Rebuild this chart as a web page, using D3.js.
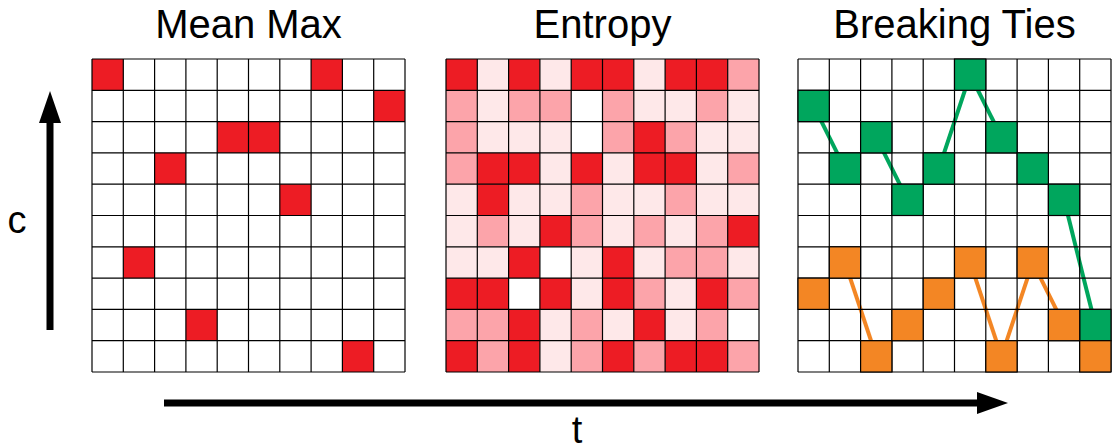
<!DOCTYPE html>
<html>
<head>
<meta charset="utf-8">
<script src="https://cdn.jsdelivr.net/npm/d3@7"></script>
<style>
  body { margin: 0; background: #fff; }
  text { font-family: "Liberation Sans", Arial, sans-serif; }
</style>
</head>
<body>
<div id="viz"></div>
<script>
// panel titles
var titles = ["Mean Max", "Entropy", "Breaking Ties"];

// mean max: selected cell per row [row, col]
var meanMaxCells = [[0, 0], [0, 7], [1, 9], [2, 4], [2, 5], [3, 2], [4, 6], [6, 1], [8, 3], [9, 8]];

// entropy: level per cell, 0 = none, 1 = low, 2 = mid, 3 = high (rows top to bottom)
var entropyLevels = [
  [3, 1, 3, 1, 3, 3, 1, 3, 3, 2],
  [2, 1, 2, 2, 0, 2, 1, 1, 2, 1],
  [2, 1, 1, 1, 0, 2, 3, 2, 1, 1],
  [2, 3, 3, 1, 3, 1, 3, 3, 1, 2],
  [1, 3, 1, 1, 2, 1, 1, 2, 1, 1],
  [1, 2, 1, 3, 2, 1, 2, 1, 2, 3],
  [1, 1, 3, 0, 1, 3, 1, 2, 2, 1],
  [3, 3, 0, 3, 1, 3, 2, 1, 3, 2],
  [2, 2, 3, 1, 2, 1, 3, 1, 2, 0],
  [3, 2, 3, 1, 2, 3, 2, 3, 3, 2]
];

// breaking ties: row picked in each column, two classes
var greenRows = [1, 3, 2, 4, 3, 0, 2, 3, 4, 8];
var orangeRows = [7, 6, 9, 8, 7, 6, 9, 6, 8, 9];

var idx = d3.range(10);
var w = 1114, h = 446;

var svg = d3.select("#viz").append("svg")
    .attr("width", w)
    .attr("height", h);

var entropyColor = d3.scaleOrdinal()
    .domain([0, 1, 2, 3])
    .range(["#ffffff", "#fee8e9", "#fca4aa", "#ed1c24"]);

var panelX = [92, 446, 798];
var size = 313, gridTop = 59;

function panel(i) {
  var x = d3.scaleBand().domain(idx).range([panelX[i], panelX[i] + size]);
  var y = d3.scaleBand().domain(idx).range([gridTop, gridTop + size]);
  var g = svg.append("g");
  svg.append("text")
      .attr("x", panelX[i] + size / 2)
      .attr("y", 38)
      .attr("text-anchor", "middle")
      .style("font-size", "40px")
      .text(titles[i]);
  return { x: x, y: y, g: g };
}

function gridLines(p) {
  var lines = p.g.append("g");
  lines.selectAll("line.v").data(d3.range(11)).enter().append("line")
      .attr("x1", function(d) { return p.x.range()[0] + d * p.x.step(); })
      .attr("x2", function(d) { return p.x.range()[0] + d * p.x.step(); })
      .attr("y1", p.y.range()[0])
      .attr("y2", p.y.range()[1])
      .style("stroke", "#000")
      .style("stroke-width", 1.2);
  lines.selectAll("line.h").data(d3.range(11)).enter().append("line")
      .attr("y1", function(d) { return p.y.range()[0] + d * p.y.step(); })
      .attr("y2", function(d) { return p.y.range()[0] + d * p.y.step(); })
      .attr("x1", p.x.range()[0])
      .attr("x2", p.x.range()[1])
      .style("stroke", "#000")
      .style("stroke-width", 1.2);
}

// Mean Max
var p1 = panel(0);
p1.g.selectAll("rect").data(meanMaxCells).enter().append("rect")
    .attr("x", function(d) { return p1.x(d[1]); })
    .attr("y", function(d) { return p1.y(d[0]); })
    .attr("width", p1.x.bandwidth())
    .attr("height", p1.y.bandwidth())
    .style("fill", "#ed1c24");
gridLines(p1);

// Entropy
var p2 = panel(1);
var cells = [];
entropyLevels.forEach(function(row, r) {
  row.forEach(function(v, c) { cells.push({ r: r, c: c, v: v }); });
});
p2.g.selectAll("rect").data(cells).enter().append("rect")
    .attr("x", function(d) { return p2.x(d.c); })
    .attr("y", function(d) { return p2.y(d.r); })
    .attr("width", p2.x.bandwidth())
    .attr("height", p2.y.bandwidth())
    .style("fill", function(d) { return entropyColor(d.v); });
gridLines(p2);

// Breaking Ties
var p3 = panel(2);
var series = [
  { rows: greenRows, color: "#00a65d" },
  { rows: orangeRows, color: "#f38624" }
];
var half = p3.x.bandwidth() / 2;
series.forEach(function(s) {
  // connect jumps between columns that are not neighbouring cells
  var segs = d3.pairs(s.rows.map(function(r, c) { return [c, r]; }))
      .filter(function(p) { return Math.abs(p[0][1] - p[1][1]) > 1; });
  p3.g.selectAll(null).data(segs).enter().append("line")
      .attr("x1", function(d) { return p3.x(d[0][0]) + half; })
      .attr("y1", function(d) { return p3.y(d[0][1]) + half; })
      .attr("x2", function(d) { return p3.x(d[1][0]) + half; })
      .attr("y2", function(d) { return p3.y(d[1][1]) + half; })
      .style("stroke", s.color)
      .style("stroke-width", 4);
});
gridLines(p3);
series.forEach(function(s) {
  p3.g.selectAll(null).data(s.rows).enter().append("rect")
      .attr("x", function(d, i) { return p3.x(i); })
      .attr("y", function(d) { return p3.y(d); })
      .attr("width", p3.x.bandwidth())
      .attr("height", p3.y.bandwidth())
      .style("fill", s.color)
      .style("stroke", "#000")
      .style("stroke-width", 1.2);
});

// axis arrows
svg.append("line")
    .attr("x1", 50).attr("y1", 330)
    .attr("x2", 50).attr("y2", 120)
    .style("stroke", "#000")
    .style("stroke-width", 7);
svg.append("path")
    .attr("d", "M39,123 L50,91 L61,123 Z")
    .style("fill", "#000");
svg.append("text")
    .attr("x", 17).attr("y", 233)
    .attr("text-anchor", "middle")
    .style("font-size", "38px")
    .text("c");

svg.append("line")
    .attr("x1", 164).attr("y1", 403)
    .attr("x2", 980).attr("y2", 403)
    .style("stroke", "#000")
    .style("stroke-width", 7);
svg.append("path")
    .attr("d", "M977,392 L1008,403 L977,414 Z")
    .style("fill", "#000");
svg.append("text")
    .attr("x", 577).attr("y", 443)
    .attr("text-anchor", "middle")
    .style("font-size", "38px")
    .text("t");
</script>
</body>
</html>
